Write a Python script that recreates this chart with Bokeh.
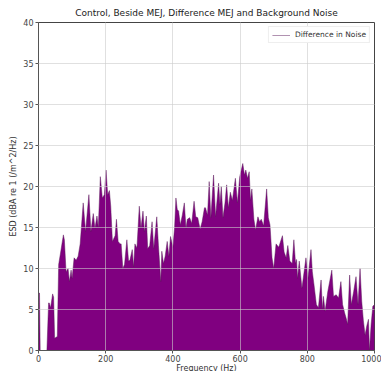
from bokeh.plotting import figure
from bokeh.models import ColumnDataSource, Legend, LegendItem, FixedTicker
from bokeh.embed import file_html
from bokeh.resources import INLINE

freq = [0, 3, 5, 25, 30, 32, 36, 42, 45, 48, 56, 60, 66, 74, 77, 82, 88, 92, 97, 100,
        106, 112, 118, 124, 133, 140, 150, 156, 163, 168, 174, 178, 184, 190, 196, 201,
        206, 211, 215, 220, 228, 232, 237, 243, 246, 251, 256, 263, 268, 272, 279, 283,
        287, 293, 300, 305, 311, 315, 321, 325, 331, 338, 343, 352, 357, 364, 367, 372,
        377, 383, 388, 393, 400, 405, 409, 413, 417, 422, 428, 434, 439, 443, 450, 456,
        463, 468, 474, 481, 487, 494, 497, 503, 508, 513, 521, 527, 536, 540, 544, 549,
        555, 560, 565, 571, 577, 586, 592, 599, 608, 613, 617, 622, 627, 631, 635, 641,
        646, 653, 658, 663, 670, 679, 684, 689, 695, 700, 707, 715, 726, 731, 737, 742,
        748, 755, 760, 765, 768, 771, 776, 784, 796, 802, 811, 815, 820, 827, 833, 841,
        845, 848, 853, 861, 873, 878, 886, 893, 900, 905, 911, 916, 920, 926, 931, 938,
        945, 951, 957, 962, 967, 972, 977, 982, 985, 990, 995, 1000]
esd = [7.0, 7.0, 0, 0, 5.8, 5.8, 5.2, 6.9, 6.5, 1.5, 1.7, 10.5, 12.0, 14.1, 13.5, 9.6, 10.0, 8.4, 9.8, 8.8,
       11.3, 11.0, 11.5, 13.0, 18.0, 14.5, 19.0, 14.5, 16.7, 14.9, 16.4, 15.0, 21.2, 18.6, 19.0, 22.0,
       19.0, 19.5, 17.6, 13.3, 14.0, 16.0, 13.3, 13.0, 13.0, 10.0, 10.5, 13.5, 10.9, 11.0, 12.3, 10.2,
       13.0, 12.5, 17.6, 14.9, 17.0, 14.5, 16.4, 12.4, 12.8, 15.7, 12.4, 16.3, 12.8, 8.4, 12.1, 10.6,
       11.5, 13.3, 11.5, 13.9, 12.6, 15.0, 18.6, 17.2, 17.0, 15.3, 16.5, 18.0, 14.9, 16.0, 16.2, 15.5,
       18.2, 16.3, 16.2, 14.8, 15.7, 17.4, 17.4, 16.5, 20.6, 16.2, 21.4, 16.3, 20.4, 17.8, 20.0, 16.2,
       18.0, 20.2, 17.4, 19.3, 18.3, 21.0, 18.0, 21.2, 22.8, 21.4, 22.0, 21.0, 21.8, 18.3, 19.7, 16.0,
       14.7, 16.3, 15.7, 16.0, 15.2, 19.7, 16.2, 15.3, 11.3, 10.0, 13.0, 12.6, 14.0, 12.0, 11.3, 12.8,
       10.9, 10.6, 13.5, 10.6, 11.1, 8.8, 10.9, 7.6, 11.3, 8.8, 12.3, 9.6, 8.0, 5.6, 5.2, 8.6,
       5.0, 6.6, 4.8, 7.2, 9.8, 6.6, 6.8, 6.4, 8.4, 5.6, 4.6, 3.9, 3.2, 9.2, 5.6, 7.2,
       9.0, 5.6, 10.0, 6.0, 3.6, 1.9, 3.0, 3.8, 0, 3.2, 5.4, 5.6]

x_ticks = [0, 200, 400, 600, 800, 1000]
y_ticks = [0, 5, 10, 15, 20, 25, 30, 35, 40]

src = ColumnDataSource(dict(f=freq, v=esd, z=[0] * len(freq)))

p = figure(frame_width=336, frame_height=328, output_backend="svg", toolbar_location=None,
           x_range=(0, 1000), y_range=(0, 40),
           title="Control, Beside MEJ, Difference MEJ and Background Noise",
           min_border_left=38, min_border_right=7, min_border_top=21, min_border_bottom=22)
p.title.align = "center"
p.title.text_font = "DejaVu Sans"
p.title.text_font_size = "9px"
p.title.text_font_style = "normal"
p.title.text_color = "#222222"
p.title.offset = 0

p.varea(x="f", y1="z", y2="v", source=src, fill_color="#800080", fill_alpha=1.0)
ln = p.line(x="f", y="v", source=src, line_color="#5a1a5a", line_width=0.6, line_alpha=0.8)

p.xaxis.ticker = FixedTicker(ticks=x_ticks)
p.yaxis.ticker = FixedTicker(ticks=y_ticks)
p.xaxis.axis_label = "Frequency (Hz)"
p.yaxis.axis_label = "ESD (dBA re 1 (/m^2/Hz)"
for ax in (p.xaxis, p.yaxis):
    ax.major_label_text_font = "DejaVu Sans"
    ax.major_label_text_font_size = "8px"
    ax.major_label_text_color = "#444444"
    ax.axis_label_text_font = "DejaVu Sans"
    ax.axis_label_text_font_size = "8px"
    ax.axis_label_text_font_style = "normal"
    ax.axis_label_text_color = "#333333"
    ax.major_tick_out = 3
    ax.major_tick_in = 0
    ax.minor_tick_out = 0
    ax.minor_tick_in = 0
    ax.major_label_standoff = 2
    ax.axis_label_standoff = 2
    ax.axis_line_color = "#555555"
    ax.major_tick_line_color = "#555555"
p.xaxis.major_label_standoff = 1
p.xaxis.axis_label_standoff = -1

p.outline_line_color = "#444444"
p.outline_line_width = 1
p.xgrid.grid_line_color = "#cccccc"
p.ygrid.grid_line_color = "#cccccc"
p.xgrid.level = "overlay"
p.ygrid.level = "overlay"
p.xgrid.grid_line_alpha = 0.6
p.ygrid.grid_line_alpha = 0.6

legend = Legend(items=[LegendItem(label="Difference in Noise", renderers=[ln])],
                location="top_right")
legend.label_text_font = "DejaVu Sans"
legend.label_text_font_size = "7.5px"
legend.label_text_color = "#333333"
legend.border_line_color = "#dddddd"
legend.glyph_width = 18
legend.glyph_height = 8
legend.label_height = 8
legend.padding = 3
legend.margin = 4
legend.spacing = 0
p.add_layout(legend)

open("out.html", "w").write(file_html(p, INLINE))
